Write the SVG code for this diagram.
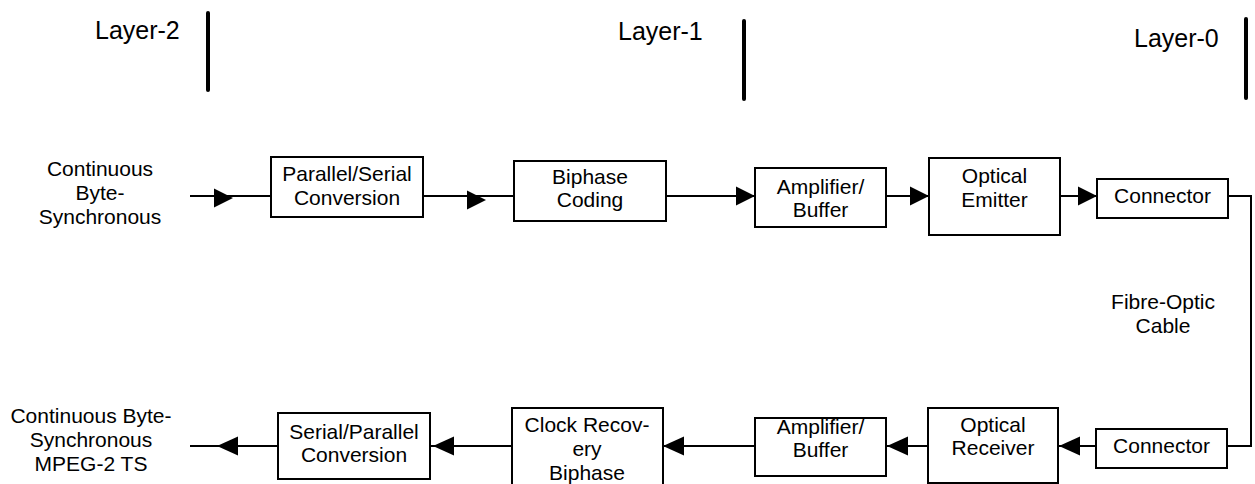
<svg xmlns="http://www.w3.org/2000/svg" width="1255" height="484" viewBox="0 0 1255 484">
<style>
  text { font-family: "Liberation Sans", Arial, sans-serif; font-size: 21px; fill: #000; text-anchor: middle; }
  .layer { font-size: 25px; text-anchor: start; }
  .box { fill: #fff; stroke: #000; stroke-width: 2; }
  .wire { fill: none; stroke: #000; stroke-width: 2; }
  .bar { stroke: #000; stroke-width: 4; stroke-linecap: round; }
</style>
<defs>
  <path id="arR" d="M-19,-9.5 L0,0 L-19,9.5 Z" fill="#000"/>
  <path id="arL" d="M21,-9.5 L0,0 L21,9.5 Z" fill="#000"/>
</defs>
<rect width="1255" height="484" fill="#fff"/>

<g id="layers">
  <text class="layer" x="95" y="39">Layer-2</text>
  <line class="bar" x1="208" y1="13" x2="208" y2="90"/>
  <text class="layer" x="618" y="40">Layer-1</text>
  <line class="bar" x1="744" y1="21" x2="744" y2="99"/>
  <text class="layer" x="1134" y="47">Layer-0</text>
  <line class="bar" x1="1246" y1="19" x2="1246" y2="98"/>
</g>

<g id="connectors">
  <path class="wire" d="M190,196 H271 M423,196 H514 M666,196 H755 M886,196 H929 M1060,196 H1097 M1228,196 H1251 V446 H1227"/>
  <path class="wire" d="M1096,446 H1058 M928,446 H886 M755,446 H663 M512,446 H430 M278,446 H190"/>
  <use href="#arR" x="233" y="198"/>
  <use href="#arR" x="486" y="200"/>
  <use href="#arR" x="755" y="196"/>
  <use href="#arR" x="929" y="196"/>
  <use href="#arR" x="1097" y="196"/>
  <use href="#arL" x="1059" y="446"/>
  <use href="#arL" x="887" y="446"/>
  <use href="#arL" x="663" y="446"/>
  <use href="#arL" x="433" y="446"/>
  <use href="#arL" x="217" y="446"/>
  <text x="1163" y="309">Fibre-Optic</text>
  <text x="1163" y="333">Cable</text>
</g>

<g id="input">
  <text x="100" y="176">Continuous</text>
  <text x="100" y="200">Byte-</text>
  <text x="100" y="224">Synchronous</text>
</g>

<g id="ps">
  <rect class="box" x="271" y="157" width="152" height="60"/>
  <text x="347" y="181">Parallel/Serial</text>
  <text x="347" y="205">Conversion</text>
</g>

<g id="biphase">
  <rect class="box" x="514" y="161" width="152" height="60"/>
  <text x="590" y="184">Biphase</text>
  <text x="590" y="207">Coding</text>
</g>

<g id="amp1">
  <rect class="box" x="755" y="168" width="131" height="59"/>
  <text x="820.5" y="194">Amplifier/</text>
  <text x="820.5" y="217">Buffer</text>
</g>

<g id="emitter">
  <rect class="box" x="929" y="158" width="131" height="77"/>
  <text x="994.5" y="183">Optical</text>
  <text x="994.5" y="207">Emitter</text>
</g>

<g id="conn1">
  <rect class="box" x="1097" y="179" width="131" height="39"/>
  <text x="1162.5" y="203">Connector</text>
</g>

<g id="conn2">
  <rect class="box" x="1096" y="429" width="131" height="39"/>
  <text x="1161.5" y="453">Connector</text>
</g>

<g id="receiver">
  <rect class="box" x="928" y="408" width="130" height="75"/>
  <text x="993" y="432">Optical</text>
  <text x="993" y="455">Receiver</text>
</g>

<g id="amp2">
  <rect class="box" x="755" y="418" width="131" height="58"/>
  <text x="820.5" y="434">Amplifier/</text>
  <text x="820.5" y="457">Buffer</text>
</g>

<g id="clock">
  <rect class="box" x="512" y="408" width="151" height="78"/>
  <text x="587" y="432">Clock Recov-</text>
  <text x="587" y="456">ery</text>
  <text x="587" y="480">Biphase</text>
</g>

<g id="sp">
  <rect class="box" x="278" y="413" width="152" height="66"/>
  <text x="354" y="439">Serial/Parallel</text>
  <text x="354" y="462">Conversion</text>
</g>

<g id="output">
  <text x="91" y="423">Continuous Byte-</text>
  <text x="91" y="447">Synchronous</text>
  <text x="91" y="471">MPEG-2 TS</text>
</g>
</svg>
